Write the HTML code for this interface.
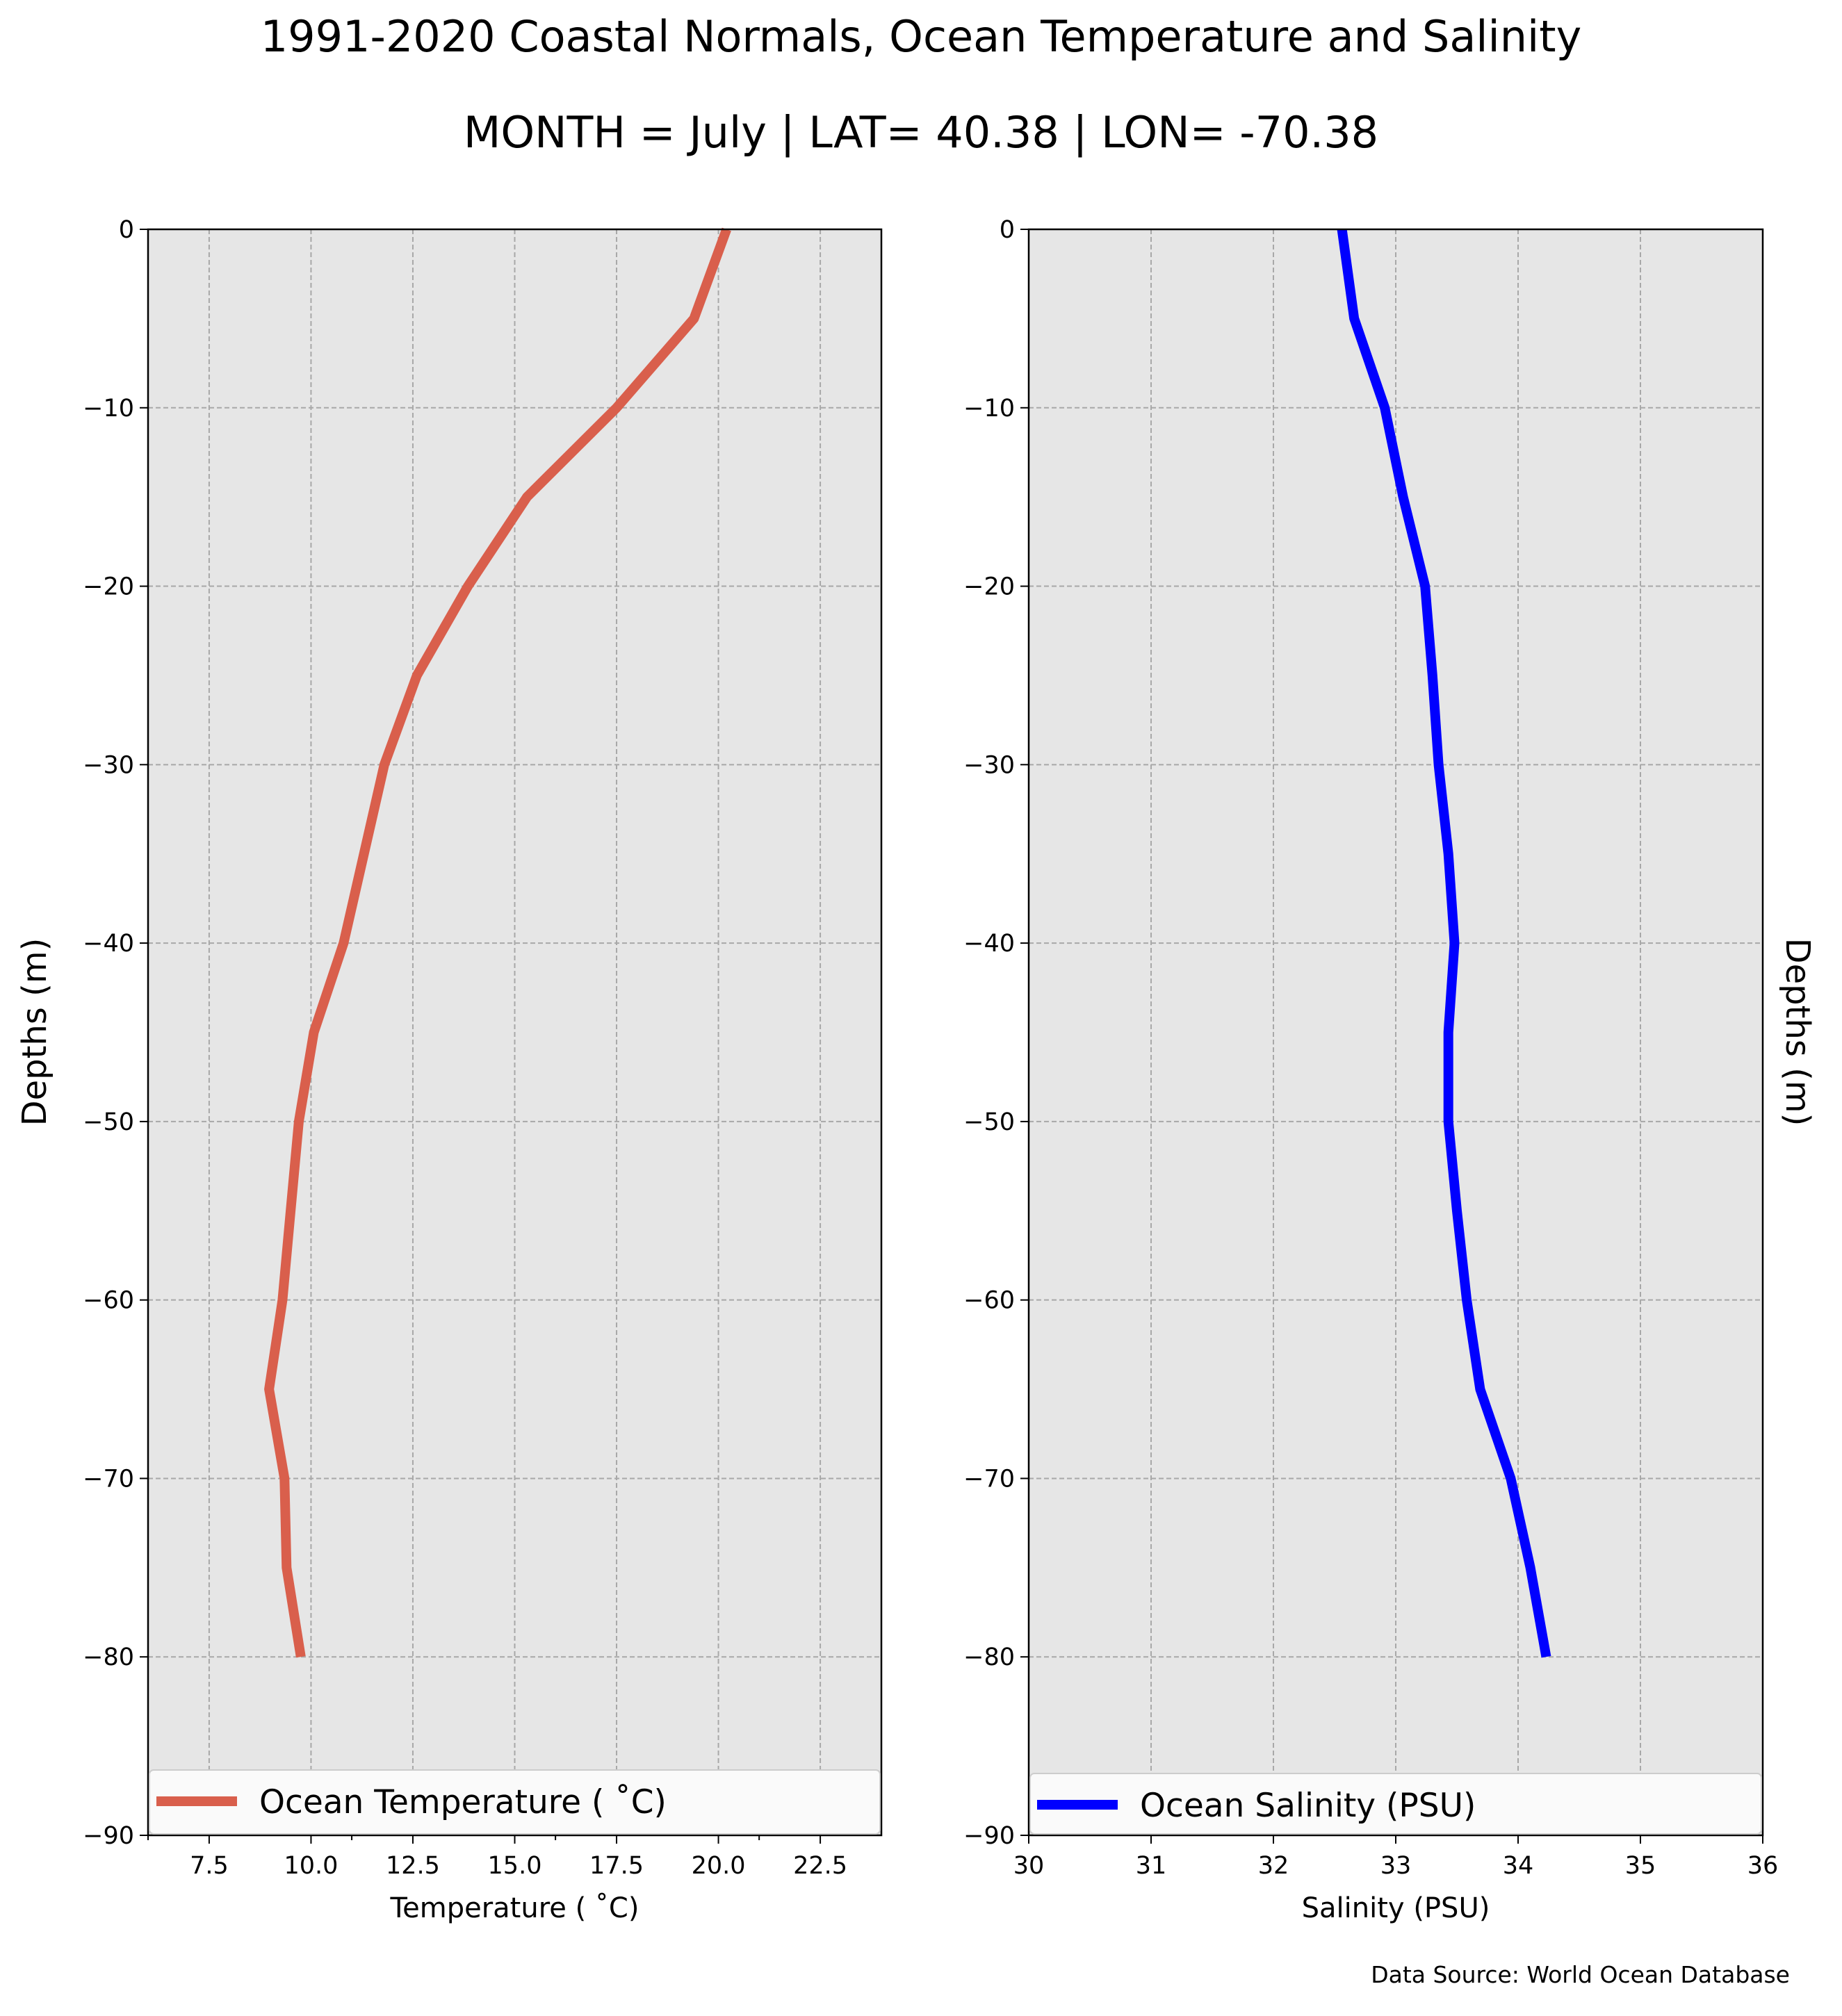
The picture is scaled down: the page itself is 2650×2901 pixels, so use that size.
<!DOCTYPE html>
<html><head><meta charset="utf-8"><style>
html,body{margin:0;padding:0;background:#fff}
svg{display:block;font-family:"DejaVu Sans","Liberation Sans",sans-serif}
</style></head><body>
<svg id="chart" width="2650" height="2901" viewBox="0 0 2650 2901" xmlns="http://www.w3.org/2000/svg">
<text x="1325" y="74" font-size="62" text-anchor="middle">1991-2020 Coastal Normals, Ocean Temperature and Salinity</text>
<text x="1325" y="212" font-size="62" text-anchor="middle">MONTH = July | LAT= 40.38 | LON= -70.38</text>
<text x="2575" y="2853" font-size="33" text-anchor="end">Data Source: World Ocean Database</text>
<g id="left"></g>
<g id="right"></g>
</svg>
<script>
const depths = [0,-5,-10,-15,-20,-25,-30,-35,-40,-45,-50,-55,-60,-65,-70,-75,-80];
const temperature = [20.2,19.4,17.5,15.3,13.85,12.6,11.8,11.3,10.8,10.07,9.7,9.5,9.3,8.97,9.35,9.4,9.75];
const salinity = [32.56,32.66,32.91,33.06,33.24,33.3,33.35,33.43,33.48,33.43,33.43,33.5,33.58,33.69,33.94,34.1,34.23];
const depthTicks = [0,-10,-20,-30,-40,-50,-60,-70,-80,-90];
const tempTicks = [7.5,10.0,12.5,15.0,17.5,20.0,22.5];
const tempMinorTicks = [6,11,16,21];
const salTicks = [30,31,32,33,34,35,36];

const NS="http://www.w3.org/2000/svg";
function mk(parent,tag,attrs,text){const e=document.createElementNS(NS,tag);for(const k in attrs)e.setAttribute(k,attrs[k]);if(text!==undefined)e.textContent=text;parent.appendChild(e);return e;}

function panel(g,cfg){
  const {x0,x1,y0,y1,xmin,xmax,ymin,ymax}=cfg;
  const sx=v=>x0+(v-xmin)/(xmax-xmin)*(x1-x0);
  const sy=v=>y0+(ymax-v)/(ymax-ymin)*(y1-y0);
  const bg=mk(g,'rect',{x:x0,y:y0,width:x1-x0,height:y1-y0,fill:'#e6e6e6'});
  
  
  cfg.xticks.forEach(t=>{
    const gl=mk(g,'line',{x1:sx(t),x2:sx(t),y1:y0,y2:y1,stroke:'#a8a8a8','stroke-width':2,'stroke-dasharray':'7,4'});
    
    
    const tk=mk(g,'line',{x1:sx(t),x2:sx(t),y1:y1,y2:y1+12,stroke:'#000','stroke-width':2});
    
    
    const lb=mk(g,'text',{x:sx(t),y:y1+55,'font-size':35,'text-anchor':'middle'},cfg.fmt(t));
    
    
  });
  (cfg.minor||[]).forEach(t=>{
    const tk=mk(g,'line',{x1:sx(t),x2:sx(t),y1:y1,y2:y1+7,stroke:'#000','stroke-width':2});
    
    
  });
  depthTicks.forEach(t=>{
    const gl=mk(g,'line',{x1:x0,x2:x1,y1:sy(t),y2:sy(t),stroke:'#a8a8a8','stroke-width':2,'stroke-dasharray':'7,4'});
    
    
    const tk=mk(g,'line',{x1:x0-12,x2:x0,y1:sy(t),y2:sy(t),stroke:'#000','stroke-width':2});
    
    
    const lb=mk(g,'text',{x:x0-20,y:sy(t)+12,'font-size':35,'text-anchor':'end'},t<0?'\u2212'+(-t):String(t));
    
    
  });
  const pts=cfg.values.map((v,i)=>sx(v).toFixed(1)+','+sy(depths[i]).toFixed(1)).join(' ');
  const ln=mk(g,'polyline',{points:pts,fill:'none',stroke:cfg.color,'stroke-width':14,'stroke-linejoin':'round'});
  
  
  const fr=mk(g,'rect',{x:x0,y:y0,width:x1-x0,height:y1-y0,fill:'none',stroke:'#000','stroke-width':2.5});
  
  
  const lg=mk(g,'g',{});
  
  
  mk(lg,'rect',{x:x0+2,y:cfg.legTop,width:x1-x0-4,height:y1-cfg.legTop-2,fill:'#fafafa',stroke:'#cccccc','stroke-width':2,rx:6});
  const sw=mk(lg,'line',{x1:x0+12,x2:x0+128,y1:cfg.legTop+45,y2:cfg.legTop+45,stroke:cfg.color,'stroke-width':14});
  
  
  const lt=mk(lg,'text',{x:x0+160,y:cfg.legTop+62,'font-size':47},cfg.legend);
  
  
  const xl=mk(g,'text',{x:(x0+x1)/2,y:y1+118,'font-size':40,'text-anchor':'middle'},cfg.xlabel);
  
  
}
const Y0=330,Y1=2641;
panel(document.getElementById('left'),{x0:213,x1:1268,y0:Y0,y1:Y1,xmin:6,xmax:24,ymin:-90,ymax:0,
  xticks:tempTicks,minor:tempMinorTicks,fmt:t=>t.toFixed(1),values:temperature,color:'#d95f4c',name:'temperature',
  legend:'Ocean Temperature ( \u02daC)',xlabel:'Temperature ( \u02daC)',legTop:2547});
panel(document.getElementById('right'),{x0:1480,x1:2536,y0:Y0,y1:Y1,xmin:30,xmax:36,ymin:-90,ymax:0,
  xticks:salTicks,fmt:t=>String(t),values:salinity,color:'#0000ff',name:'salinity',
  legend:'Ocean Salinity (PSU)',xlabel:'Salinity (PSU)',legTop:2552});
const svg=document.getElementById('chart');
const yl=mk(svg,'text',{x:0,y:0,'font-size':48,'text-anchor':'middle',transform:'translate(66,1485) rotate(-90)'},'Depths (m)');


const yr=mk(svg,'text',{x:0,y:0,'font-size':48,'text-anchor':'middle',transform:'translate(2570,1485) rotate(90)'},'Depths (m)');


</script>
</body></html>
